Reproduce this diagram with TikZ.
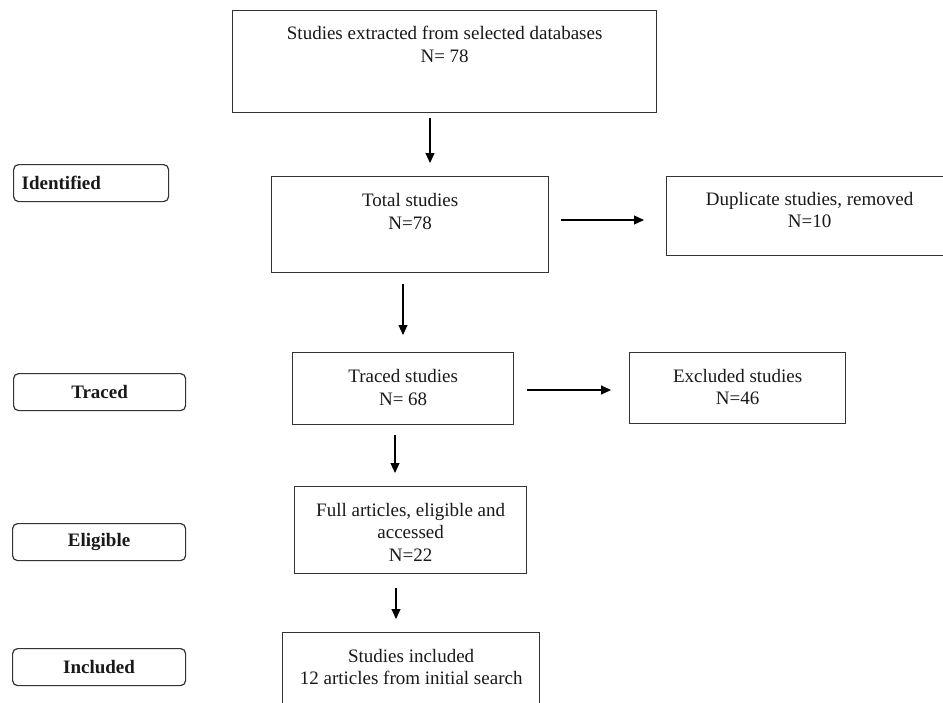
\documentclass[tikz,border=0pt]{standalone}
\usepackage{fontspec}
\setmainfont{Liberation Serif}
\usetikzlibrary{arrows.meta,positioning}
\definecolor{ln}{HTML}{333333}
\tikzset{
  box/.style={draw=ln, line width=1.3pt, rectangle, inner sep=0pt, anchor=north west},
  lab/.style={draw=ln, line width=1.2pt, rectangle, rounded corners=5pt, inner sep=0pt, anchor=north west},
  txt/.style={align=center, inner sep=0pt, anchor=north, text=black!90, font=\fontsize{19}{22.5}\selectfont},
  btxt/.style={inner sep=0pt, text=black!90, font=\fontsize{19}{22.5}\selectfont\bfseries},
  arr/.style={draw=black, line width=1.1pt, -{Triangle[length=10pt,width=9pt]}}
}
\begin{document}
\begin{tikzpicture}[x=1pt,y=-1pt]
\useasboundingbox (0,0) rectangle (943,702);
\clip (0,0) rectangle (943,702);
\fill[white] (0,0) rectangle (943,702);
% main boxes
\node[box, minimum width=424pt, minimum height=102pt] (top) at (232,10) {};
\node[txt] (toptx) at ([yshift=-14pt]top.north) {\strut Studies extracted from selected databases\\N= 78};
\node[box, minimum width=277pt, minimum height=96pt] (tot) at (271,176) {};
\node[txt] (tottx) at ([yshift=-15pt]tot.north) {\strut Total studies\\N=78};
\node[box, minimum width=286pt, minimum height=79pt] (dup) at (666,176) {};
\node[txt] (duptx) at ([yshift=-13.5pt]dup.north) {\strut Duplicate studies, removed\\N=10};
\node[box, minimum width=221pt, minimum height=72pt] (tra) at (292,352) {};
\node[txt] (tratx) at ([yshift=-15pt]tra.north) {\strut Traced studies\\N= 68};
\node[box, minimum width=216pt, minimum height=71pt] (exc) at (629,352) {};
\node[txt] (exctx) at ([yshift=-14.5pt]exc.north) {\strut Excluded studies\\N=46};
\node[box, minimum width=232pt, minimum height=87pt] (ful) at (294,486) {};
\node[txt] (fultx) at ([yshift=-14.5pt]ful.north) {\strut Full articles, eligible and\\accessed\\N=22};
\node[box, minimum width=257pt, minimum height=90pt] (inc) at (282,632) {};
\node[txt] (inctx) at ([yshift=-14.5pt]inc.north) {\strut Studies included\\12 articles from initial search};
% stage labels
\node[lab, minimum width=155pt, minimum height=37pt] (lid) at (13,164) {};
\node[btxt, anchor=west] (lidtx) at ([xshift=8.5pt,yshift=0.5pt]lid.west) {Identified};
\node[lab, minimum width=172pt, minimum height=37pt] (ltr) at (13,373) {};
\node[btxt] (ltrtx) at ([yshift=0.5pt]ltr.center) {Traced};
\node[lab, minimum width=173pt, minimum height=37pt] (lel) at (12,523) {};
\node[btxt] (leltx) at ([yshift=0.5pt]lel.center) {Eligible};
\node[lab, minimum width=173pt, minimum height=37pt] (lin) at (12,648) {};
\node[btxt] (lintx) at ([yshift=0.5pt]lin.center) {Included};
% arrow end points
\coordinate (a1s) at (430,118); \coordinate (a1e) at (430,163);
\coordinate (a2s) at (561,220); \coordinate (a2e) at (644,220);
\coordinate (a3s) at (403,284); \coordinate (a3e) at (403,335);
\coordinate (a4s) at (527,390); \coordinate (a4e) at (611,390);
\coordinate (a5s) at (395,435); \coordinate (a5e) at (395,473);
\coordinate (a6s) at (396,588); \coordinate (a6e) at (396,619);
\draw[arr] (a1s) -- (a1e);
\draw[arr] (a2s) -- (a2e);
\draw[arr] (a3s) -- (a3e);
\draw[arr] (a4s) -- (a4e);
\draw[arr] (a5s) -- (a5e);
\draw[arr] (a6s) -- (a6e);
\end{tikzpicture}
\end{document}
